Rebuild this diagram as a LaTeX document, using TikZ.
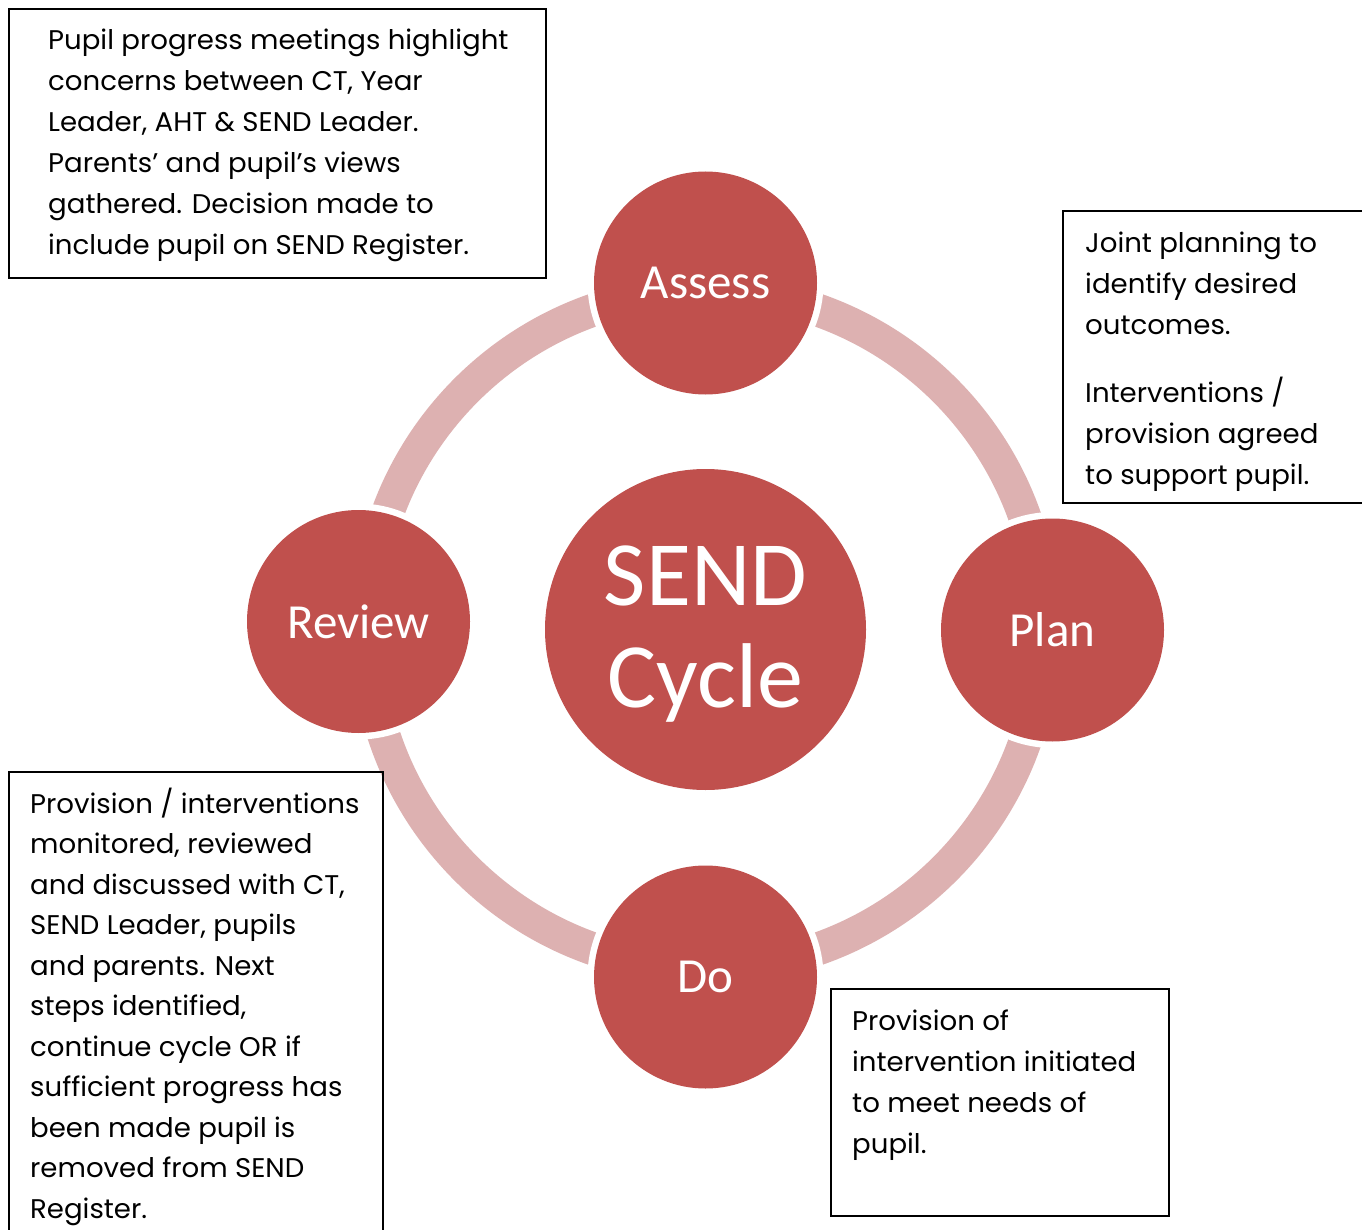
\documentclass[tikz,border=0pt]{standalone}
\usepackage{fontspec}
\setmainfont[FakeStretch=1.022]{Poppins}
\newfontfamily\calib{Carlito}
\definecolor{circred}{RGB}{192,80,77}
\definecolor{ringpink}{RGB}{221,177,177}
\tikzset{
  stage/.style={circle, fill=circred, text=white, minimum size=223pt, inner sep=0pt, font=\calib\fontsize{49}{59}\selectfont},
  halo/.style={circle, fill=white, minimum size=236pt, inner sep=0pt},
  ringline/.style={draw=ringpink, line width=33pt},
  infobox/.style={draw=black, line width=1.6pt},
  infotext/.style={anchor=base west, inner sep=0pt, font=\fontsize{27}{41}\selectfont}
}
\newcommand{\txtlines}[2]{\vtop{\baselineskip=#1pt #2}}
\begin{document}
\begin{tikzpicture}[x=1pt,y=-1pt]
\useasboundingbox (0,0) rectangle (1362,1230);
\fill[white] (0,0) rectangle (1362,1230);
% ring
\coordinate (ctr) at (705.5,629.5);
\draw[ringline] (ctr) circle[radius=338.5];
% halos
\node[halo] at (705.5,283) {};
\node[halo] at (1052.5,630) {};
\node[halo] at (705.5,977) {};
\node[halo] at (358.5,621.5) {};
% circles
\node[stage] (assess) at (705.5,283) {Assess};
\node[stage] (plan) at (1052.5,630) {Plan};
\node[stage] (do) at (705.5,977) {Do};
\node[stage] (review) at (358.5,621.5) {Review};
\node[circle, fill=circred, minimum size=321pt, inner sep=0pt] (send) at (ctr) {};
\node[text=white, align=center, inner sep=0pt,
  font=\calib\fontsize{92}{102}\selectfont] (sendlabel) at (705.5,634) {SEND\\Cycle};
% boxes
\draw[infobox] (9,9) rectangle (546,278);
\node[infotext] (tltext) at (48,50) {\txtlines{41}{%
  \hbox{Pupil progress meetings highlight}
  \hbox{concerns between CT, Year}
  \hbox{Leader, AHT \& SEND Leader.}
  \hbox{Parents’ and pupil’s views}
  \hbox{gathered. Decision made to}
  \hbox{include pupil on SEND Register.}}};
\draw[infobox] (1063,211) rectangle (1380,503);
\node[infotext] (trtext) at (1085,253) {\txtlines{41}{%
  \hbox{Joint planning to}
  \hbox{identify desired}
  \hbox{outcomes.}
  \vskip 27pt
  \hbox{Interventions /}
  \hbox{provision agreed}
  \hbox{to support pupil.}}};
\draw[infobox] (9,772) rectangle (383,1250);
\node[infotext] (bltext) at (30,813) {\txtlines{40.5}{%
  \hbox{Provision / interventions}
  \hbox{monitored, reviewed}
  \hbox{and discussed with CT,}
  \hbox{SEND Leader, pupils}
  \hbox{and parents. Next}
  \hbox{steps identified,}
  \hbox{continue cycle OR if}
  \hbox{sufficient progress has}
  \hbox{been made pupil is}
  \hbox{removed from SEND}
  \hbox{Register.}}};
\draw[infobox] (831,989) rectangle (1169,1216);
\node[infotext] (brtext) at (852,1030) {\txtlines{41}{%
  \hbox{Provision of}
  \hbox{intervention initiated}
  \hbox{to meet needs of}
  \hbox{pupil.}}};
\end{tikzpicture}
\end{document}
